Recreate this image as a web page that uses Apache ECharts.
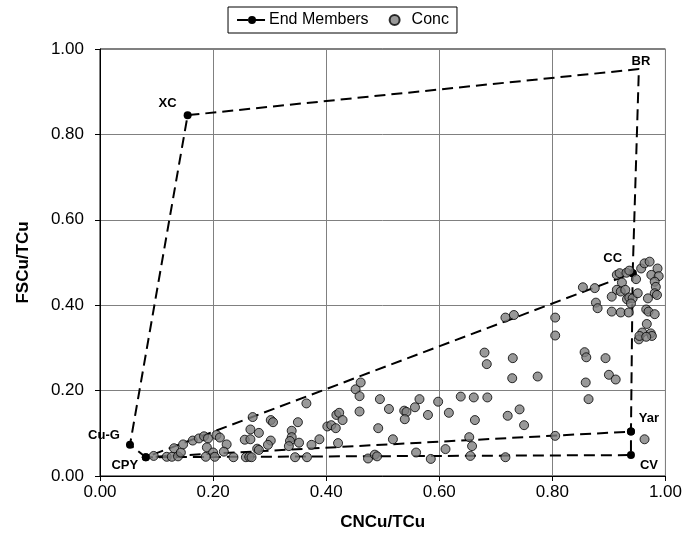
<!DOCTYPE html>
<html>
<head>
<meta charset="utf-8">
<script src="https://cdn.jsdelivr.net/npm/echarts@6/dist/echarts.min.js"></script>
<style>html,body{margin:0;padding:0;background:#fff;}#chart{width:685px;height:536px;}</style>
</head>
<body>
<div id="chart"></div>
<script>
// End member compositions
var endNames = ['XC', 'BR', 'CC', 'Cu-G', 'CPY', 'Yar', 'CV'];
var endX = [0.155, 0.953, 0.942, 0.053, 0.081, 0.939, 0.939];
var endY = [0.845, 0.953, 0.475, 0.073, 0.044, 0.104, 0.049];
// order in which the end-member polygon is drawn
var pathOrder = ['CC', 'BR', 'XC', 'Cu-G', 'CPY', 'CC', 'Yar', 'CV', 'CPY', 'Yar'];

// Concentrate samples: CNCu/TCu
var concX = [
  0.095,0.118,0.127,0.131,0.138,0.143,0.147,0.164,0.175,0.184,0.191,0.189,0.200,0.206,0.212,0.224,0.219,0.187,0.203,0.236,0.258,0.264,0.270,0.266,0.256,0.266,0.281,0.278,0.281,0.268,
  0.302,0.306,0.350,0.365,0.302,0.297,0.339,0.339,0.336,0.352,0.334,0.374,0.388,0.345,0.366,0.402,0.409,0.417,0.418,0.423,0.429,0.421,0.459,0.452,0.461,0.459,0.474,0.486,0.490,0.492,0.495,
  0.680,0.684,0.511,0.538,0.542,0.539,0.557,0.565,0.580,0.598,0.617,0.638,0.661,0.685,0.663,0.518,0.653,0.658,0.611,0.559,0.585,0.655,
  0.717,0.732,0.805,0.805,0.877,0.880,0.730,0.729,0.774,0.857,0.860,0.894,0.900,0.912,0.859,0.864,0.742,0.721,0.750,0.805,0.717,
  0.854,0.875,0.905,0.905,0.921,0.935,0.914,0.919,0.923,0.931,0.936,0.914,0.921,0.929,0.932,0.936,0.942,0.948,0.951,0.957,0.963,0.972,0.975,0.986,0.988,0.981,0.983,0.981,0.985,0.969,0.939,0.966,0.970,0.981,0.967,0.974,0.959,0.953,0.954,0.976,0.966,
  0.963
];
// Concentrate samples: FSCu/TCu
var concY = [
  0.047,0.045,0.045,0.065,0.046,0.055,0.074,0.083,0.088,0.093,0.088,0.067,0.055,0.096,0.090,0.074,0.057,0.045,0.045,0.044,0.044,0.045,0.138,0.109,0.085,0.086,0.101,0.064,0.061,0.044,
  0.131,0.126,0.126,0.170,0.083,0.073,0.106,0.091,0.082,0.078,0.070,0.073,0.086,0.044,0.044,0.116,0.119,0.112,0.143,0.148,0.131,0.077,0.151,0.203,0.219,0.187,0.041,0.050,0.046,0.112,0.180,
  0.289,0.262,0.157,0.153,0.150,0.133,0.161,0.180,0.143,0.174,0.148,0.186,0.184,0.184,0.131,0.086,0.091,0.070,0.063,0.055,0.040,0.047,
  0.371,0.377,0.371,0.329,0.406,0.393,0.276,0.229,0.233,0.290,0.278,0.276,0.237,0.226,0.219,0.180,0.156,0.141,0.119,0.094,0.044,
  0.442,0.440,0.420,0.385,0.383,0.383,0.471,0.475,0.453,0.476,0.481,0.436,0.432,0.436,0.414,0.418,0.416,0.461,0.428,0.486,0.498,0.502,0.471,0.486,0.468,0.455,0.443,0.428,0.424,0.416,0.404,0.390,0.385,0.379,0.356,0.334,0.336,0.320,0.328,0.328,0.326,
  0.086
];

var xTicks = [0, 0.2, 0.4, 0.6, 0.8, 1.0];
var yTicks = [0, 0.2, 0.4, 0.6, 0.8, 1.0];

var FONT = '"Liberation Sans", Arial, sans-serif';
var labelOffset = {
  'XC': [-20, -12], 'BR': [2, -8], 'CC': [-20, -15], 'Cu-G': [-26, -9],
  'CPY': [-21, 8], 'Yar': [18, -13], 'CV': [18, 10]
};
var hiddenMarker = { 'BR': true };

var seen = {};
var pathData = pathOrder.map(function (n) {
  var i = endNames.indexOf(n);
  var first = !seen[n];
  seen[n] = true;
  return {
    name: n,
    value: [endX[i], endY[i]],
    symbolSize: hiddenMarker[n] ? 0 : 8,
    label: {
      show: first,
      formatter: n,
      position: 'inside',
      offset: labelOffset[n],
      fontFamily: FONT,
      fontWeight: 'bold',
      fontSize: 13,
      color: '#000'
    }
  };
});
var concData = concX.map(function (x, i) { return [x, concY[i]]; });

var chart = echarts.init(document.getElementById('chart'), null, { renderer: 'canvas' });
chart.setOption({
  animation: false,
  backgroundColor: '#fff',
  textStyle: { fontFamily: FONT },
  legend: {
    top: 7,
    left: 'center',
    borderColor: '#000',
    borderWidth: 1,
    padding: [5, 8, 5, 8],
    itemGap: 20,
    itemWidth: 30,
    itemHeight: 10,
    textStyle: { fontFamily: FONT, fontSize: 16, color: '#000', padding: [0, 0, 0, -3] },
    data: ['End Members', 'Conc']
  },
  grid: {
    left: 100, right: 19, top: 49, bottom: 60,
    show: true, borderColor: '#000', borderWidth: 1
  },
  xAxis: {
    type: 'value', min: xTicks[0], max: xTicks[xTicks.length - 1], interval: xTicks[1] - xTicks[0],
    name: 'CNCu/TCu', nameLocation: 'middle', nameGap: 38,
    nameTextStyle: { fontFamily: FONT, fontWeight: 'bold', fontSize: 17, color: '#000' },
    axisLine: { show: true, lineStyle: { color: '#000', width: 1 } },
    axisTick: { show: true, length: 5, inside: false, lineStyle: { color: '#000' } },
    axisLabel: { fontFamily: FONT, fontSize: 17, color: '#000', margin: 8, formatter: function (v) { return v.toFixed(2); } },
    splitLine: { show: true, lineStyle: { color: '#808080', width: 1 } }
  },
  yAxis: {
    type: 'value', min: yTicks[0], max: yTicks[yTicks.length - 1], interval: yTicks[1] - yTicks[0],
    name: 'FSCu/TCu', nameLocation: 'middle', nameGap: 68,
    nameTextStyle: { fontFamily: FONT, fontWeight: 'bold', fontSize: 17, color: '#000' },
    axisLine: { show: true, lineStyle: { color: '#000', width: 1 } },
    axisTick: { show: true, length: 5, inside: false, lineStyle: { color: '#000' } },
    axisLabel: { fontFamily: FONT, fontSize: 17, color: '#000', margin: 16, formatter: function (v) { return v.toFixed(2); } },
    splitLine: { show: true, lineStyle: { color: '#808080', width: 1 } }
  },
  series: [
    {
      name: 'End Members',
      type: 'line',
      data: pathData,
      symbol: 'circle',
      symbolSize: 8,
      showAllSymbol: true,
      itemStyle: { color: '#000' },
      lineStyle: { color: '#000', width: 2, type: [11, 6] },
      z: 3
    },
    {
      name: 'Conc',
      type: 'scatter',
      data: concData,
      symbol: 'circle',
      symbolSize: 9,
      itemStyle: { color: '#808080', borderColor: '#000', borderWidth: 1 },
      z: 4
    }
  ]
});
</script>
</body>
</html>
